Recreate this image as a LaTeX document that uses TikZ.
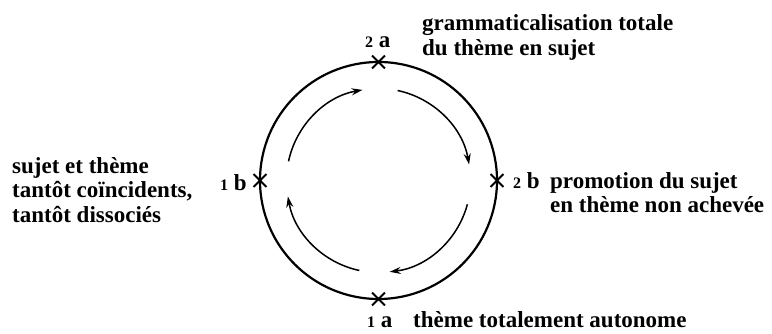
\documentclass[tikz,border=0pt]{standalone}
\usepackage{fontspec}
\setmainfont{Liberation Serif}
\usetikzlibrary{arrows.meta,shapes.misc}
\newcommand\osn[1]{{\fontsize{16}{16}\selectfont\bfseries #1}}
\begin{document}
\begin{tikzpicture}[x=1pt,y=1pt,
  lbl/.style={anchor=base west,inner sep=0pt,font=\fontsize{23}{24}\selectfont\bfseries},
  xmark/.style={draw,cross out,minimum width=11pt,minimum height=11pt,inner sep=0pt,line width=1.8pt},
  ring/.style={line width=2.2pt},
  arr/.style={line width=1.5pt,-{Stealth[length=11pt,width=7pt]}}]
\useasboundingbox (0,0) rectangle (772,334);
\coordinate (c) at (378.5,153.5);
\draw[ring] (c) circle[radius=118.5pt];
\node[xmark] (x2a) at ([shift={(90:118.5pt)}]c) {};
\node[xmark] (x1a) at ([shift={(270:118.5pt)}]c) {};
\node[xmark] (x1b) at ([shift={(180:118.5pt)}]c) {};
\node[xmark] (x2b) at ([shift={(0:118.5pt)}]c) {};
% inner arrows (clockwise)
\draw[arr] ([shift={(168:92pt)}]c) arc[start angle=168, end angle=100, radius=92pt];
\draw[arr] ([shift={(78:92pt)}]c) arc[start angle=78, end angle=10, radius=92pt];
\draw[arr] ([shift={(-15:92pt)}]c) arc[start angle=-15, end angle=-83, radius=92pt];
\draw[arr] ([shift={(-102:92pt)}]c) arc[start angle=-102, end angle=-170, radius=92pt];
% point labels
\node[lbl] (n2a) at (365,286) {\osn{2} a};
\node[lbl] (n1a) at (367,6) {\osn{1} a};
\node[lbl] (n1b) at (220,143) {\osn{1} b};
\node[lbl] (n2b) at (513,145) {\osn{2} b};
% texts
\node[lbl] (t2a1) at (422,303) {grammaticalisation totale};
\node[lbl] (t2a2) at (422,278) {du thème en sujet};
\node[lbl] (t1b1) at (12,160) {sujet et thème};
\node[lbl] (t1b2) at (12,136) {tantôt coïncidents,};
\node[lbl] (t1b3) at (12,111) {tantôt dissociés};
\node[lbl] (t2b1) at (550,145) {promotion du sujet};
\node[lbl] (t2b2) at (550,121) {en thème non achevée};
\node[lbl] (t1a) at (413,6) {thème totalement autonome};
\end{tikzpicture}
\end{document}
